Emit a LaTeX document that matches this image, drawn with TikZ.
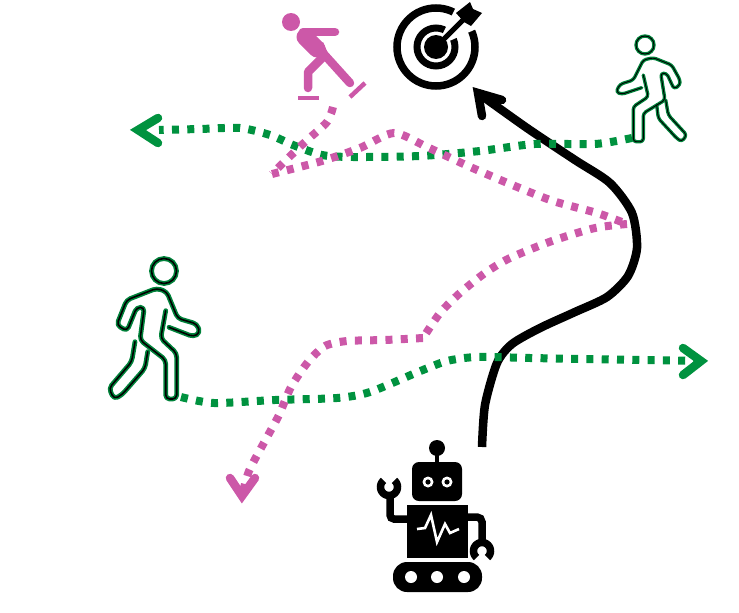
\documentclass[tikz,border=0pt]{standalone}
\definecolor{pathgreen}{HTML}{00923F}
\definecolor{pathpink}{HTML}{CC58A8}
\definecolor{walkergreen}{HTML}{00823A}
\tikzset{
  greentrail/.style={draw=pathgreen,line width=8pt,dash pattern=on 7pt off 8.3pt},
  pinktrail/.style={draw=pathpink,line width=8pt,dash pattern=on 7pt off 8.3pt},
  chevron/.style={line width=8.5pt,line cap=round,line join=miter,miter limit=10},
  robotpath/.style={draw=black,line width=8.5pt},
  walkerhalo/.style={draw=walkergreen,line width=4.8pt,line cap=round,line join=round,rounded corners=4pt},
  walkercore/.style={draw=black,line width=1.6pt,line cap=round,line join=round,rounded corners=4pt},
  limb/.style={line width=8.5pt,line cap=round,line join=round},
}
\begin{document}
\begin{tikzpicture}[x=1pt,y=-1pt]
\useasboundingbox (0,0) rectangle (739,613);
% named ends
\coordinate (robotTop) at (482,447);
\coordinate (goalTip) at (478,93);
\coordinate (walkerRfoot) at (632,138);
\coordinate (leftEnd) at (138,130);
\coordinate (walkerLfoot) at (181,397);
\coordinate (rightEnd) at (701,361);
\coordinate (skaterFoot) at (333,107);
\coordinate (turnA) at (272,174);
\coordinate (turnB) at (627,224);
\coordinate (turnC) at (423,338);
\coordinate (pinkEnd) at (242,496);
% robot trajectory
\draw[robotpath] plot[smooth,tension=0.45] coordinates {(robotTop) (485,405) (497,363) (512,344) (540,328) (575,312) (607,297) (628,276) (637,248) (632,213) (610,183) (575,160) (527,128) (goalTip)};
\draw[chevron,draw=black] (482,116) -- (goalTip) -- (502,100);
% green trails
\draw[greentrail] plot[smooth,tension=0.45] coordinates {(walkerRfoot) (595,144) (535,144) (480,151) (420,156) (353,157) (322,155) (293,145) (270,135) (240,128) (200,129) (159,130)};
\draw[chevron,draw=pathgreen] (158,118) -- (leftEnd) -- (158,143);
\draw[greentrail] plot[smooth,tension=0.45] coordinates {(walkerLfoot) (214,403) (275,400) (337,398) (370,392) (418,372) (447,361) (477,357) (530,358) (583,359) (640,360) (rightEnd)};
\draw[chevron,draw=pathgreen] (683,348) -- (rightEnd) -- (683,375);
% pink trails
\draw[pinktrail] plot[smooth,tension=0.45] coordinates {(skaterFoot) (327,122) (305,142) (283,163) (turnA)};
\draw[pinktrail] plot[smooth,tension=0.45] coordinates {(turnA) (322,161) (360,148) (394,133) (427,147) (468,166) (510,184) (553,201) (597,213) (turnB)};
\draw[pinktrail] plot[smooth,tension=0.45] coordinates {(turnB) (595,228) (552,241) (510,258) (485,273) (460,293) (440,313) (turnC)};
\draw[pinktrail] plot[smooth,tension=0.45] coordinates {(turnC) (385,340) (347,341) (325,346) (308,362) (291,387) (279,415) (266,439) (249,471) (pinkEnd)};
\draw[chevron,draw=pathpink] (230,478) -- (pinkEnd) -- (255,478);
% skater
\fill[pathpink] (291,22) circle (9);
\draw[limb,draw=pathpink] (303,32) -- (335,32);
\draw[line width=17pt,line cap=round,draw=pathpink] (305,37) -- (317,49);
\draw[line width=9pt,line cap=butt,draw=pathpink] (319,44) -- (326,60);
\draw[limb,draw=pathpink] (322,52) -- (350,83);
\draw[limb,draw=pathpink] (322,58) -- (308,72) -- (308,88);
\draw[line width=4pt,draw=pathpink] (298,98) -- (319,98);
\draw[line width=4.5pt,draw=pathpink] (350,97) -- (365,83);
% target
\draw[line width=7.5pt] (436,47) circle (39);
\draw[line width=7pt] (436,47) circle (19);
\fill[white] (436,47) -- (459,1) -- (483,26) -- cycle;
\fill (436,47) circle (12);
\draw[line width=5pt] (436,47) -- (464,19);
\fill (456,13) -- (470,2) -- (473,9) -- (482,13) -- (471,26) -- (464,22) -- cycle;
% robot
\fill (437,448) circle (8);
\draw[line width=4.5pt] (437,450) -- (437,465);
\fill[rounded corners=7pt] (412,462) rectangle (462,501);
\fill[white] (428,482) circle (5.5) (447,482) circle (5.5);
\fill (428,482) circle (2.6) (447,482) circle (2.6);
\fill (407,505) rectangle (468,558);
\draw[white,line width=2.6pt,line join=miter] (417,529) -- (425,528) -- (431,515) -- (437,542) -- (445,524) -- (450,533) -- (459,529);
\draw[line width=7.5pt,rounded corners=4pt] (408,519) -- (390,519) -- (390,498);
\draw[line width=7.5pt] plot[smooth,domain=130:410,samples=30] ({389+8.5*cos(\x)},{487-8.5*sin(\x)});
\draw[line width=7.5pt,rounded corners=5pt] (467,517) -- (482,517) -- (482,541);
\draw[line width=7.5pt] plot[smooth,domain=-50:230,samples=30] ({482+8.5*cos(\x)},{551-8.5*sin(\x)});
\fill[rounded corners=14pt] (393,562) rectangle (482,592);
\fill[white] (411,577) circle (6) (437,577) circle (6) (464,577) circle (6);
% left walker
\foreach \sty in {walkerhalo,walkercore}{
  \draw[\sty] (164,271) circle (12.5);
  \draw[\sty] (165.7,310.7) -- (160.7,338.3) -- (176.7,353.3) -- (176.7,399) -- (165.7,399) -- (165.7,360) -- (140,340) -- (144.3,307.3) -- (136.7,307.3) -- (127,331) -- (116.7,325) -- (126.7,300) -- (156.7,288.3) -- (166.7,291.7) -- (177.7,318.3) -- (197,324) -- (200,333) -- (193.3,336.7) -- (169,327.3);
  \draw[\sty] (135,341.7) -- (131.7,361.7) -- (109,388.3) -- (114,399) -- (121.7,395) -- (145,368.3) -- (147.7,351.7);
}
% right walker
\begin{scope}[walkerhalo/.append style={line width=3.4pt,rounded corners=3pt},walkercore/.append style={line width=.9pt,rounded corners=3pt}]
\foreach \sty in {walkerhalo,walkercore}{
  \draw[\sty] (645,45) circle (9);
  \draw[\sty] (643.3,75) -- (648.3,96.7) -- (633.3,106.7) -- (633.3,141.7) -- (643.3,141.7) -- (643.3,113.3) -- (665,100) -- (660.7,73.3) -- (666.7,73.3) -- (674,89) -- (680,85) -- (680,80) -- (671.7,65) -- (653.3,57.7) -- (643.3,60) -- (633.3,80) -- (620,84.3) -- (616,92) -- (621.7,94.3) -- (641.7,87.7);
  \draw[\sty] (665.7,100) -- (668.3,115) -- (686.7,135) -- (681.7,141.7) -- (676.7,138.3) -- (658.3,118.3) -- (656.7,105);
}
\end{scope}
\end{tikzpicture}
\end{document}
